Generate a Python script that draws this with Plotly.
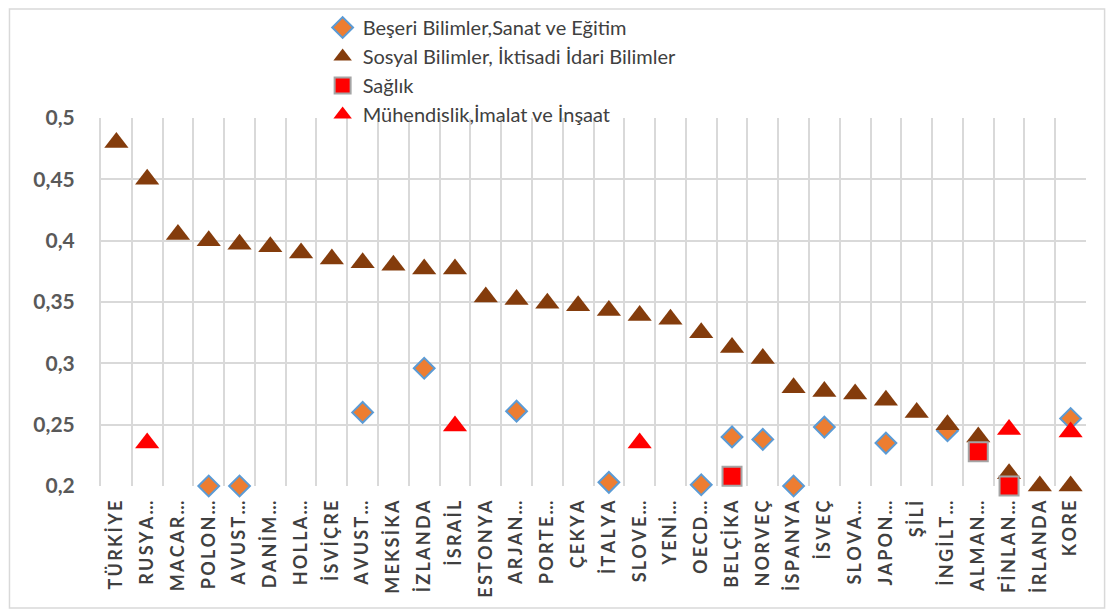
import plotly.graph_objects as go

countries = ["TÜRKİYE", "RUSYA…", "MACAR…", "POLON…", "AVUST…", "DANİM…", "HOLLA…",
             "İSVİÇRE", "AVUST…", "MEKSİKA", "İZLANDA", "İSRAİL", "ESTONYA", "ARJAN…",
             "PORTE…", "ÇEKYA", "İTALYA", "SLOVE…", "YENİ…", "OECD…", "BELÇİKA", "NORVEÇ",
             "İSPANYA", "İSVEÇ", "SLOVA…", "JAPON…", "ŞİLİ", "İNGİLT…", "ALMAN…", "FİNLAN…",
             "İRLANDA", "KORE"]

# None = no marker for that country
beseri = [None, None, None, 0.200, 0.200, None, None, None, 0.260, None, 0.296, None,
          None, 0.261, None, None, 0.203, None, None, 0.201, 0.240, 0.238, 0.200, 0.248,
          None, 0.235, None, 0.245, None, None, None, 0.255]
sosyal = [0.480, 0.450, 0.405, 0.400, 0.397, 0.395, 0.390, 0.385, 0.382, 0.380, 0.377,
          0.377, 0.354, 0.352, 0.349, 0.347, 0.343, 0.339, 0.336, 0.325, 0.313, 0.304,
          0.280, 0.277, 0.275, 0.270, 0.260, 0.250, 0.240, 0.210, 0.200, 0.200]
saglik = [None] * 20 + [0.208] + [None] * 7 + [0.228, 0.200, None, None]
muhendislik = [None, 0.235, None, None, None, None, None, None, None, None, None, 0.249,
               None, None, None, None, None, 0.235, None, None, None, None, None, None,
               None, None, None, None, None, 0.246, None, 0.244]

y_ticks = [0.2, 0.25, 0.3, 0.35, 0.4, 0.45, 0.5]
y_labels = ["0,2", "0,25", "0,3", "0,35", "0,4", "0,45", "0,5"]

xs = list(range(len(countries)))
# Excel draws these labels with wide character spacing
spaced = ["\u2009".join(c) for c in countries]


def pts(vals):
    x = [i for i, v in zip(xs, vals) if v is not None]
    y = [v for v in vals if v is not None]
    return x, y


fig = go.Figure()

x, y = pts(beseri)
fig.add_trace(go.Scatter(x=x, y=y, mode="markers", name="Beşeri Bilimler,Sanat ve Eğitim",
                         marker=dict(symbol="diamond", size=16, color="#ED7D31",
                                     line=dict(color="#5B9BD5", width=2)),
                         cliponaxis=False))
x, y = pts(sosyal)
fig.add_trace(go.Scatter(x=x, y=y, mode="markers",
                         name="Sosyal Bilimler, İktisadi İdari Bilimler",
                         marker=dict(symbol="triangle-up", size=21, color="#843C0C",
                                     line=dict(color="#843C0C", width=0)),
                         cliponaxis=False))
x, y = pts(saglik)
fig.add_trace(go.Scatter(x=x, y=y, mode="markers", name="Sağlık",
                         marker=dict(symbol="square", size=19, color="#FF0000",
                                     line=dict(color="#A5A5A5", width=2)),
                         cliponaxis=False))
x, y = pts(muhendislik)
fig.add_trace(go.Scatter(x=x, y=y, mode="markers", name="Mühendislik,İmalat ve İnşaat",
                         marker=dict(symbol="triangle-up", size=21, color="#FF0000",
                                     line=dict(color="#FF0000", width=0)),
                         cliponaxis=False))

# plot area: x 92.6..1078.4, y 110..478 (page is drawn with an 8px body offset)
fig.update_layout(
    width=1118, height=613,
    margin=dict(l=92.6, r=39.6, t=110, b=135, autoexpand=False),
    paper_bgcolor="white", plot_bgcolor="white",
    font=dict(family="Lato", color="#595959"),
    showlegend=True,
    legend=dict(x=0.225, y=1.028, xanchor="left", yanchor="top", yref="container",
                font=dict(size=20, family="Lato", color="#404040"),
                tracegroupgap=0, bgcolor="rgba(0,0,0,0)"),
    xaxis=dict(range=[-0.5, len(countries) - 0.5], tickmode="array", tickvals=xs,
               ticktext=spaced, tickangle=-90, showgrid=False, zeroline=False,
               automargin=False, ticklabelstandoff=10,
               tickfont=dict(size=18, family="Lato", color="#404040", weight="bold"),
               showline=False,
               minor=dict(tickmode="array", tickvals=[i - 0.5 for i in range(len(countries) + 1)],
                          showgrid=True, gridcolor="#D9D9D9", gridwidth=2, ticks="")),
    yaxis=dict(range=[0.2, 0.5], tickvals=y_ticks, ticktext=y_labels, showgrid=True,
               gridcolor="#D9D9D9", gridwidth=2, zeroline=False, showline=True,
               linecolor="#D9D9D9", linewidth=2, ticks="", automargin=False,
               ticklabelstandoff=20,
               tickfont=dict(size=21, family="Lato", color="#595959", weight="bold")),
)

# outer chart frame
fig.add_shape(type="rect", xref="paper", yref="paper",
              x0=(1 - 92.6) / 985.8, x1=(1097 - 92.6) / 985.8,
              y0=(478 - 600) / 368, y1=(478 - 1) / 368,
              line=dict(color="#D9D9D9", width=1.5), fillcolor="rgba(0,0,0,0)", layer="below")

fig.write_html("out.html")
